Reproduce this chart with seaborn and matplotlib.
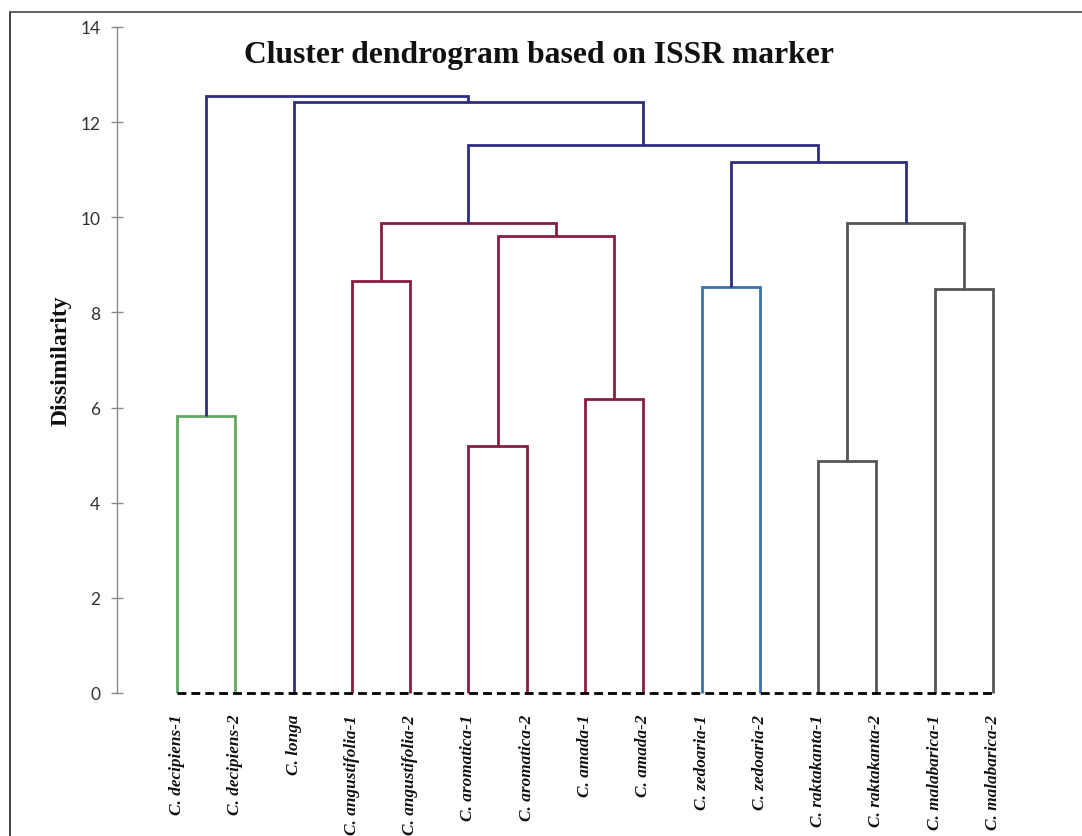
import numpy as np
import pandas as pd
import matplotlib
matplotlib.use("Agg")
import matplotlib.pyplot as plt
from matplotlib.lines import Line2D
import seaborn as sns

# ---------------- data ----------------
leaves = ["C. decipiens-1", "C. decipiens-2", "C. longa",
          "C. angustifolia-1", "C. angustifolia-2",
          "C. aromatica-1", "C. aromatica-2",
          "C. amada-1", "C. amada-2",
          "C. zedoaria-1", "C. zedoaria-2",
          "C. raktakanta-1", "C. raktakanta-2",
          "C. malabarica-1", "C. malabarica-2"]

# merges: node ids 0..14 are leaves, new nodes start at 15
merge_left = [0, 5, 7, 3, 16, 18, 9, 11, 13, 22, 21, 20, 2, 15]
merge_right = [1, 6, 8, 4, 17, 19, 10, 12, 14, 23, 24, 25, 26, 27]
merge_height = [5.82, 5.19, 6.18, 8.66, 9.61, 9.88, 8.53, 4.88, 8.49,
                9.88, 11.16, 11.52, 12.42, 12.56]
merge_group = ["decipiens", "amada", "amada", "amada", "amada", "amada",
               "zedoaria", "malabarica", "malabarica", "malabarica",
               "top", "top", "top", "top"]

yticks = [0, 2, 4, 6, 8, 10, 12, 14]

palette = {"decipiens": "#62A862", "amada": "#8A1C3C", "zedoaria": "#3A72AE",
           "malabarica": "#555555", "top": "#2F2D7E"}

# ---------------- build link table ----------------
pos = {i: float(i) for i in range(len(leaves))}
hgt = {i: 0.0 for i in range(len(leaves))}
rows = []
for k, (a, b, h, g) in enumerate(zip(merge_left, merge_right, merge_height, merge_group)):
    node = len(leaves) + k
    xs = [pos[a], pos[a], pos[b], pos[b]]
    ys = [hgt[a], h, h, hgt[b]]
    for j, (xx, yy) in enumerate(zip(xs, ys)):
        rows.append({"link": k, "order": j, "x": xx, "y": yy, "group": g})
    pos[node] = (pos[a] + pos[b]) / 2.0
    hgt[node] = h
df = pd.DataFrame(rows)

# ---------------- plot ----------------
sns.set_theme(style="white")
W, H = 1082, 837
fig = plt.figure(figsize=(W / 100, H / 100), dpi=100)

ax_left = 117 / W
ax_bottom = 1 - 694 / H
ax_top = 1 - 28 / H
ax_right = 1050 / W
ax = fig.add_axes([ax_left, ax_bottom, ax_right - ax_left, ax_top - ax_bottom])

sns.lineplot(data=df, x="x", y="y", units="link", hue="group", palette=palette,
             estimator=None, sort=False, legend=False, linewidth=2.0, ax=ax,
             clip_on=False)
for ln in ax.lines:
    ln.set_solid_joinstyle("miter")
    ln.set_solid_capstyle("butt")

# dashed baseline across leaves
ax.plot([0, len(leaves) - 1], [0, 0], color="black", lw=2.0,
        linestyle=(0, (3.2, 1.8)), clip_on=False, zorder=5)

# x positions: leaf 0 at pixel 177, leaf 14 at 993
px0, px14 = 177, 993
unit = (px14 - px0) / 14
ax.set_xlim(-(px0 - 117) / unit, (1050 - px0) / unit)
ax.set_ylim(0, 14)

ax.set_xticks(range(len(leaves)))
ax.set_xticklabels(leaves, rotation=90, family="Liberation Serif",
                   fontweight="bold", fontstyle="italic", fontsize=12.4,
                   color="#111111", va="top", ha="center")
ax.tick_params(axis="x", length=0, pad=15)

ax.set_yticks(yticks)
ax.set_yticklabels([str(t) for t in yticks], family="Lato", fontsize=12.5,
                   color="#333333")
ax.tick_params(axis="y", direction="inout", length=8, width=1,
               color="#8a8a8a", pad=8, left=True)

for s in ["top", "right", "bottom"]:
    ax.spines[s].set_visible(False)
ax.spines["left"].set_color("#8a8a8a")
ax.spines["left"].set_linewidth(1.0)
ax.set_xlabel("")
ax.set_ylabel("")
ax.set_facecolor("none")

fig.text(61 / W, 1 - 361 / H, "Dissimilarity", rotation=90, ha="center",
         va="center", family="Liberation Serif", fontweight="bold",
         fontsize=17, color="#111111")
fig.text(539 / W, 1 - 56 / H, "Cluster dendrogram based on ISSR marker",
         ha="center", va="center", family="Liberation Serif",
         fontweight="bold", fontsize=22.8, color="#111111")

# chart-area frame (left and top edges visible)
fig.add_artist(Line2D([10 / W, 10 / W], [0, 1 - 13 / H], color="#333333",
                      lw=1.3, transform=fig.transFigure))
fig.add_artist(Line2D([10 / W, 1.0], [1 - 13 / H, 1 - 13 / H], color="#555555",
                      lw=1.3, transform=fig.transFigure))

fig.savefig("out.png", dpi=100, facecolor="white")
